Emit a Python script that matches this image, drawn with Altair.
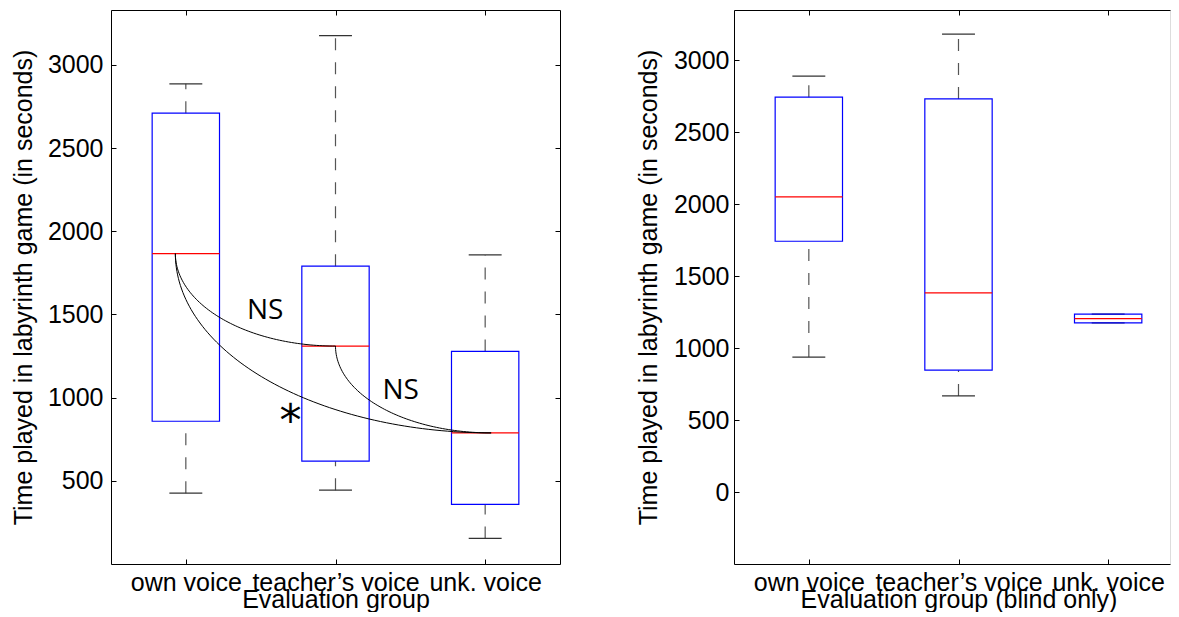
import numpy as np
import pandas as pd
import altair as alt

# ---------------- data ----------------
groups = ["own voice", "teacher’s voice", "unk. voice"]
positions = [1, 2, 3]

# left panel: all participants
all_low = [426, 444, 154]
all_q1 = [858, 618, 358]
all_median = [1866, 1310, 788]
all_q3 = [2710, 1790, 1278]
all_high = [2886, 3176, 1858]

# right panel: blind only
blind_low = [938, 668, 1175]
blind_q1 = [1743, 847, 1175]
blind_median = [2052, 1384, 1205]
blind_q3 = [2744, 2732, 1237]
blind_high = [2890, 3182, 1237]

left_yticks = [500, 1000, 1500, 2000, 2500, 3000]
right_yticks = [0, 500, 1000, 1500, 2000, 2500, 3000]

# significance connectors (left panel): from one median to another
arc_id = ["own-teacher", "own-unk", "teacher-unk"]
arc_start_pos = [0.93, 0.93, 2.0]
arc_start_val = [1866, 1866, 1310]
arc_end_pos = [2.0, 3.04, 3.04]
arc_end_val = [1310, 788, 788]

ns_text = ["NS", "NS"]
ns_pos = [1.53, 2.435]
ns_val = [1532, 1052]
star_text = ["*"]
star_pos = [1.70]
star_val = [896]

ytitle = "Time played in labyrinth game (in seconds)"
xtitle_left = "Evaluation group"
xtitle_right = "Evaluation group (blind only)"

FONT = "Liberation Sans"
FS = 25
BOX_HALF = 0.225
CAP_HALF = 0.11
FULL_W = 449          # full panel width (right panel is cut at the window edge)
RIGHT_W = 436

label_expr = "[" + ",".join("'" + g + "'" for g in groups) + "][datum.value - 1]"


def tick_axis(orient, values, offset, size):
    return alt.Axis(orient=orient, values=values, offset=offset, tickSize=size,
                    ticks=True, labels=False, domain=False, grid=False, title=None,
                    tickColor="black", tickWidth=1)


def domain_axis(orient):
    return alt.Axis(orient=orient, ticks=False, labels=False, domain=True, grid=False,
                    title=None, domainColor="black", domainWidth=1)


def panel(low, q1, med, q3, high, yticks, ydomain, width, height, xtitle,
          left_panel, label_pad, title_pad):
    df = pd.DataFrame(dict(group=groups, pos=positions, low=low, q1=q1, med=med,
                           q3=q3, high=high))
    df["bx1"] = df["pos"] - BOX_HALF
    df["bx2"] = df["pos"] + BOX_HALF
    df["cx1"] = df["pos"] - CAP_HALF
    df["cx2"] = df["pos"] + CAP_HALF

    xmax = 0.5 + 3.0 * width / FULL_W
    xs = alt.Scale(domain=[0.5, xmax], nice=False, zero=False)
    ys = alt.Scale(domain=ydomain, nice=False, zero=False)
    base = alt.Chart(df)

    upper_wh = base.mark_rule(color="#555555", strokeDash=[12, 12], strokeWidth=1.2).encode(
        x=alt.X("pos:Q", scale=xs, axis=None),
        y=alt.Y("q3:Q", scale=ys, axis=None), y2="high:Q")
    lower_wh = base.mark_rule(color="#555555", strokeDash=[12, 12], strokeWidth=1.2).encode(
        x=alt.X("pos:Q", scale=xs, axis=None),
        y=alt.Y("low:Q", scale=ys, axis=None), y2="q1:Q")
    cap_hi = base.mark_rule(color="#333333", strokeWidth=1.3).encode(
        x=alt.X("cx1:Q", scale=xs, axis=None), x2="cx2:Q",
        y=alt.Y("high:Q", scale=ys, axis=None))
    cap_lo = base.mark_rule(color="#333333", strokeWidth=1.3).encode(
        x=alt.X("cx1:Q", scale=xs, axis=None), x2="cx2:Q",
        y=alt.Y("low:Q", scale=ys, axis=None))

    boxes = base.mark_rect(fill="transparent", stroke="#0000ff", strokeWidth=1.2).encode(
        x=alt.X("bx1:Q", scale=xs, axis=alt.Axis(
            orient="bottom", values=positions, labelExpr=label_expr, ticks=False,
            domain=True, domainColor="black", grid=False, title=xtitle,
            titleX=FULL_W / 2, titleAlign="center",
            labelFont=FONT, labelFontSize=FS, titleFont=FONT, titleFontSize=FS,
            titleFontWeight="normal", labelColor="black", titleColor="black",
            labelPadding=6, titlePadding=-8, labelOverlap=False, labelFlush=False)),
        x2="bx2:Q",
        y=alt.Y("q1:Q", scale=ys, axis=alt.Axis(
            orient="left", values=yticks, format="d", ticks=False, domain=True,
            domainColor="black", grid=False, title=ytitle, labelFont=FONT,
            labelFontSize=FS, titleFont=FONT, titleFontSize=FS,
            titleFontWeight="normal", labelColor="black", titleColor="black",
            labelPadding=label_pad, titlePadding=title_pad,
            labelFlush=False, labelOverlap=False)),
        y2="q3:Q")

    medians = base.mark_rule(color="#ff0000", strokeWidth=1.2).encode(
        x=alt.X("bx1:Q", scale=xs, axis=None), x2="bx2:Q",
        y=alt.Y("med:Q", scale=ys, axis=None))

    ticks_bl = base.mark_point(opacity=0).encode(
        x=alt.X("pos:Q", scale=xs, axis=tick_axis("bottom", positions, -5, 5)),
        y=alt.Y("med:Q", scale=ys, axis=tick_axis("left", yticks, -5, 5)))
    if left_panel:
        ticks_tr = base.mark_point(opacity=0).encode(
            x=alt.X("pos:Q", scale=xs, axis=tick_axis("top", positions, -5, 5)),
            y=alt.Y("med:Q", scale=ys, axis=tick_axis("right", yticks, -5, 5)))
        frame_tr = base.mark_point(opacity=0).encode(
            x=alt.X("pos:Q", scale=xs, axis=domain_axis("top")),
            y=alt.Y("med:Q", scale=ys, axis=domain_axis("right")))
    else:
        ticks_tr = base.mark_point(opacity=0).encode(
            x=alt.X("pos:Q", scale=xs, axis=tick_axis("top", positions, -5, 5)),
            y=alt.Y("med:Q", scale=ys, axis=None))
        frame_tr = base.mark_point(opacity=0).encode(
            x=alt.X("pos:Q", scale=xs, axis=domain_axis("top")),
            y=alt.Y("med:Q", scale=ys, axis=None))

    layers = [upper_wh, lower_wh, cap_hi, cap_lo, boxes, medians]

    if left_panel:
        t = np.linspace(0.0, np.pi / 2, 80)
        rows = []
        for k in range(len(arc_id)):
            x0, y0 = arc_start_pos[k], arc_start_val[k]
            x1, y1 = arc_end_pos[k], arc_end_val[k]
            for i, tt in enumerate(t):
                rows.append(dict(arc=arc_id[k], i=i,
                                 x=x1 - (x1 - x0) * np.cos(tt),
                                 y=y0 + (y1 - y0) * np.sin(tt)))
        arcs_df = pd.DataFrame(rows)
        arcs = alt.Chart(arcs_df).mark_line(color="black", strokeWidth=1).encode(
            x=alt.X("x:Q", scale=xs, axis=None),
            y=alt.Y("y:Q", scale=ys, axis=None),
            detail="arc:N", order="i:Q")
        ns_df = pd.DataFrame(dict(text=ns_text, x=ns_pos, y=ns_val))
        ns = alt.Chart(ns_df).mark_text(font="Open Sans", fontSize=28, color="black",
                                        align="center", baseline="middle", dy=2).encode(
            x=alt.X("x:Q", scale=xs, axis=None), y=alt.Y("y:Q", scale=ys, axis=None),
            text="text:N")
        star_df = pd.DataFrame(dict(text=star_text, x=star_pos, y=star_val))
        star = alt.Chart(star_df).mark_text(font="DejaVu Sans", fontSize=44, color="black",
                                            align="center", baseline="middle", dy=8).encode(
            x=alt.X("x:Q", scale=xs, axis=None), y=alt.Y("y:Q", scale=ys, axis=None),
            text="text:N")
        layers += [arcs, ns, star]

    layers += [ticks_bl, ticks_tr, frame_tr]
    return alt.layer(*layers).resolve_axis(x="independent", y="independent").properties(
        width=width, height=height)


left = panel(all_low, all_q1, all_median, all_q3, all_high, left_yticks, [0, 3330],
             FULL_W, 554, xtitle_left, True, 8, 10.5)
right = panel(blind_low, blind_q1, blind_median, blind_q3, blind_high, right_yticks,
              [-500, 3350], RIGHT_W, 554, xtitle_right, False, 5, 11.8)

chart = alt.hconcat(left, right, spacing=75).properties(
    padding={"left": 3, "top": 1, "right": 0, "bottom": -1}
).configure_view(stroke="transparent").configure(font=FONT)

chart.save("out.html", embed_options={"renderer": "svg", "actions": False})
